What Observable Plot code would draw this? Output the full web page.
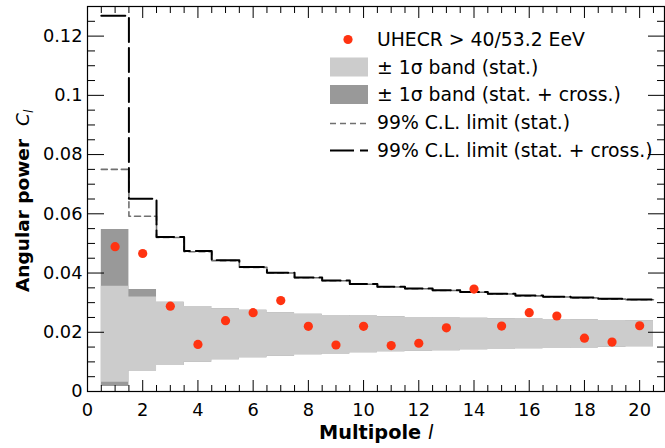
<!DOCTYPE html>
<html><head><meta charset="utf-8">
<script src="https://cdn.jsdelivr.net/npm/d3@7"></script>
<script src="https://cdn.jsdelivr.net/npm/@observablehq/plot@0.6"></script>
<style>
body{margin:0;background:#fff}
#wrap{position:relative;width:665px;height:448px}
#wrap svg{position:absolute;left:0;top:0}
</style></head><body><div id="wrap"></div>
<script>
// Multipoles
const ells = [1,2,3,4,5,6,7,8,9,10,11,12,13,14,15,16,17,18,19,20];
// Measured angular power C_l
const cl = [0.0489,0.0466,0.0288,0.0159,0.0239,0.0266,0.0307,0.0220,0.0157,0.0220,0.0155,0.0163,0.0215,0.0346,0.0221,0.0266,0.0255,0.0180,0.0167,0.0222];
// +-1 sigma band (stat.)
const statHi = [0.0355,0.0319,0.0301,0.0287,0.0279,0.0274,0.0266,0.0261,0.0257,0.0255,0.0252,0.0250,0.0248,0.0247,0.0246,0.0245,0.0243,0.0242,0.0240,0.0239];
const statLo = [0.0031,0.0069,0.0088,0.0099,0.0107,0.0114,0.0119,0.0124,0.0127,0.0131,0.0134,0.0136,0.0138,0.0141,0.0142,0.0144,0.0145,0.0147,0.0149,0.0151];
// +-1 sigma band (stat. + cross.)
const sysHi = [0.0547,0.0344,0.0301,0.0287,0.0279,0.0274,0.0266,0.0261,0.0257,0.0255,0.0252,0.0250,0.0248,0.0247,0.0246,0.0245,0.0243,0.0242,0.0240,0.0239];
const sysLo = [0.0017,0.0069,0.0088,0.0099,0.0107,0.0114,0.0119,0.0124,0.0127,0.0131,0.0134,0.0136,0.0138,0.0141,0.0142,0.0144,0.0145,0.0147,0.0149,0.0151];
// 99% C.L. limits
const limStat = [0.0750,0.0592,0.0520,0.0472,0.0442,0.0419,0.0400,0.0384,0.0374,0.0362,0.0353,0.0347,0.0341,0.0335,0.0329,0.0323,0.0319,0.0316,0.0312,0.0310];
const limSys = [0.1269,0.0651,0.0522,0.0474,0.0443,0.0420,0.0401,0.0385,0.0375,0.0363,0.0354,0.0348,0.0342,0.0336,0.0330,0.0324,0.0320,0.0317,0.0313,0.0311];
// Ticks
const xMajor = [0,2,4,6,8,10,12,14,16,18,20];
const xMinor = d3.range(0, 20.9, 0.5).filter(v => v % 2 !== 0);
const yMajor = [0,0.02,0.04,0.06,0.08,0.1,0.12];
const yMinor = d3.range(0, 0.1301, 0.005).filter(v => Math.abs(v/0.02 - Math.round(v/0.02)) > 1e-6);
// Legend
const legendLabels = ["UHECR > 40/53.2 EeV","± 1σ band (stat.)","± 1σ band (stat. + cross.)","99% C.L. limit (stat.)","99% C.L. limit (stat. + cross.)"];

const C_DOT = "#ff3311", C_LIGHT = "#cccccc", C_DARK = "#999999", C_GRAY = "#707070";

const points = ells.map((l,i) => ({l, cl: cl[i]}));
const steps = ells.map((l,i) => ({x: l - 0.5, statHi: statHi[i], statLo: statLo[i], sysHi: sysHi[i], sysLo: sysLo[i], limStat: limStat[i], limSys: limSys[i]}));
steps.push({...steps[steps.length-1], x: ells[ells.length-1] + 0.5});

const fmtY = d => String(+d.toFixed(3));
const noText = () => "";

const plot = Plot.plot({
  width: 665, height: 448,
  marginLeft: 87, marginRight: 1, marginTop: 6, marginBottom: 57,
  style: {fontFamily: "DejaVu Sans", fontSize: "17.8px", color: "#000", background: "transparent"},
  x: {domain: [0, 20.9]},
  y: {domain: [0, 0.13]},
  marks: [
    Plot.areaY(steps, {x: "x", y1: "sysLo", y2: "sysHi", curve: "step-after", fill: C_DARK}),
    Plot.areaY(steps, {x: "x", y1: "statLo", y2: "statHi", curve: "step-after", fill: C_LIGHT}),
    Plot.line(steps, {x: "x", y: "limStat", curve: "step-after", stroke: C_GRAY, strokeWidth: 1.6, strokeDasharray: "6,4"}),
    Plot.line(steps, {x: "x", y: "limSys", curve: "step-after", stroke: "#000", strokeWidth: 2, strokeDasharray: "24,6"}),
    Plot.dot(points, {x: "l", y: "cl", r: 4.6, fill: C_DOT}),
    // inward ticks
    Plot.axisX(xMajor, {anchor: "bottom", tickSize: -11, tickFormat: noText, label: null}),
    Plot.axisX(xMinor, {anchor: "bottom", tickSize: -6, tickFormat: noText, label: null}),
    Plot.axisX(xMajor, {anchor: "top", tickSize: -11, tickFormat: noText, label: null}),
    Plot.axisX(xMinor, {anchor: "top", tickSize: -6, tickFormat: noText, label: null}),
    Plot.axisY(yMajor, {anchor: "left", tickSize: -17, tickFormat: noText, label: null}),
    Plot.axisY(yMinor, {anchor: "left", tickSize: -8, tickFormat: noText, label: null}),
    Plot.axisY(yMajor, {anchor: "right", tickSize: -17, tickFormat: noText, label: null}),
    Plot.axisY(yMinor, {anchor: "right", tickSize: -8, tickFormat: noText, label: null}),
    // labels
    Plot.axisX(xMajor, {anchor: "bottom", tickSize: 0, tickPadding: 12, tickFormat: d => String(d), label: null}),
    Plot.axisY(yMajor, {anchor: "left", tickSize: 0, tickPadding: 5, tickFormat: fmtY, label: null}),
    Plot.frame({stroke: "#000", strokeWidth: 1.2})
  ]
});
const wrap = document.getElementById("wrap");
wrap.appendChild(plot);

// overlay: titles + legend
const ov = d3.select(wrap).append("svg").attr("width", 665).attr("height", 448)
  .style("font-family", "DejaVu Sans").style("pointer-events", "none");

// x title
const xt = ov.append("text").attr("x", 319).attr("y", 439).attr("font-size", 19.3);
xt.append("tspan").attr("font-weight", "bold").text("Multipole");
xt.append("tspan").attr("font-style", "italic").attr("dx", 7).text("l");

// y title
const yt = ov.append("text").attr("transform", "translate(29,292) rotate(-90)").attr("font-size", 18.5);
yt.append("tspan").attr("font-weight", "bold").text("Angular power");
yt.append("tspan").attr("font-style", "italic").attr("dx", 13).text("C");
yt.append("tspan").attr("font-style", "italic").attr("font-size", 12).attr("dy", 4).text("l");

// legend
const lx = 330, lw = 38, tx = 377;
const base = [45.5, 73.5, 101, 129, 156.5];
const lg = ov.append("g");
lg.append("circle").attr("cx", 348).attr("cy", base[0] - 6).attr("r", 4.6).attr("fill", C_DOT);
lg.append("rect").attr("x", lx).attr("y", base[1] - 16).attr("width", lw).attr("height", 19).attr("fill", C_LIGHT);
lg.append("rect").attr("x", lx).attr("y", base[2] - 16).attr("width", lw).attr("height", 19).attr("fill", C_DARK);
lg.append("line").attr("x1", lx).attr("x2", lx + lw).attr("y1", base[3] - 5.5).attr("y2", base[3] - 5.5)
  .attr("stroke", C_GRAY).attr("stroke-width", 1.6).attr("stroke-dasharray", "6,4");
lg.append("line").attr("x1", lx).attr("x2", lx + lw).attr("y1", base[4] - 6).attr("y2", base[4] - 6)
  .attr("stroke", "#000").attr("stroke-width", 2).attr("stroke-dasharray", "24,6");
legendLabels.forEach((t, i) => {
  lg.append("text").attr("x", tx).attr("y", base[i]).attr("font-size", 18.8).attr("fill", "#000").text(t);
});
</script></body></html>
